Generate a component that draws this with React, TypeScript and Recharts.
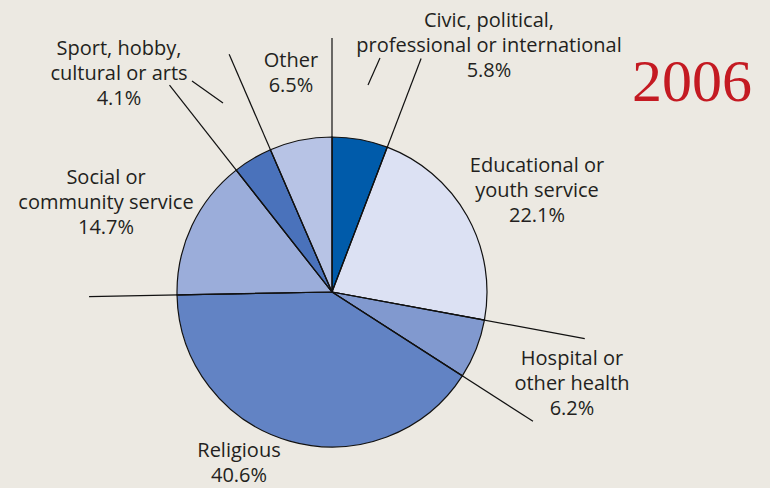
import { PieChart, Pie, Cell } from "recharts";

const categories = [
  "Civic, political,\nprofessional or international",
  "Educational or\nyouth service",
  "Hospital or\nother health",
  "Religious",
  "Social or\ncommunity service",
  "Sport, hobby,\ncultural or arts",
  "Other",
];
const shares = [5.8, 22.1, 6.2, 40.6, 14.7, 4.1, 6.5];
const sliceColors = ["#005baa", "#dce1f3", "#8199cf", "#6283c4", "#9badda", "#4a72bb", "#b7c3e5"];

// layout bits (pixels, relative to pie centre)
const dividerLength = [254, 250, 257, 239, 243, 263, 259];
const labelOffset: [number, number][] = [
  [157, -265],
  [205, -120],
  [240, 73],
  [-93, 165],
  [-226, -108],
  [-213, -237],
  [-41, -225],
];
const leaderTicks: Record<number, [number, number, number, number]> = {
  0: [36, -207, 48, -234],
  5: [-140, -211, -109, -189],
};

const data = categories.map((name, i) => ({ name, value: shares[i] }));
const RAD = Math.PI / 180;

function renderLabel(props: any) {
  const { cx, cy, startAngle, index, value } = props;
  const len = dividerLength[index];
  const x2 = cx + len * Math.cos(-startAngle * RAD);
  const y2 = cy + len * Math.sin(-startAngle * RAD);
  const [dx, dy] = labelOffset[index];
  const lines = [...categories[index].split("\n"), `${Number(value).toFixed(1)}%`];
  const tick = leaderTicks[index];
  return (
    <g key={`lbl-${index}`}>
      <line x1={cx} y1={cy} x2={x2} y2={y2} stroke="#111" strokeWidth={1.2} />
      {tick && (
        <line x1={cx + tick[0]} y1={cy + tick[1]} x2={cx + tick[2]} y2={cy + tick[3]} stroke="#111" strokeWidth={1.2} />
      )}
      <text x={cx + dx} y={cy + dy} textAnchor="middle" fill="#231f20" fontSize={20} fontFamily="Open Sans">
        {lines.map((l, k) => (
          <tspan key={k} x={cx + dx} dy={k === 0 ? 0 : 25}>
            {l}
          </tspan>
        ))}
      </text>
    </g>
  );
}

export default function App() {
  return (
    <div style={{ position: "absolute", left: 0, top: 0, width: 770, height: 488, background: "#ece9e2" }}>
      <PieChart width={770} height={488} margin={{ top: 0, right: 0, bottom: 0, left: 0 }}>
        <Pie
          data={data}
          dataKey="value"
          nameKey="name"
          cx={332}
          cy={292}
          outerRadius={155}
          startAngle={90}
          endAngle={-270}
          stroke="#111"
          strokeWidth={1.2}
          label={renderLabel}
          labelLine={false}
          isAnimationActive={false}
        >
          {data.map((d, i) => (
            <Cell key={d.name} fill={sliceColors[i]} />
          ))}
        </Pie>
      </PieChart>
      <svg width={770} height={488} style={{ position: "absolute", left: 0, top: 0, pointerEvents: "none" }}>
        <text x={692} y={101} textAnchor="middle" fill="#c41a22" fontSize={60} fontFamily="Liberation Serif">
          2006
        </text>
      </svg>
    </div>
  );
}
